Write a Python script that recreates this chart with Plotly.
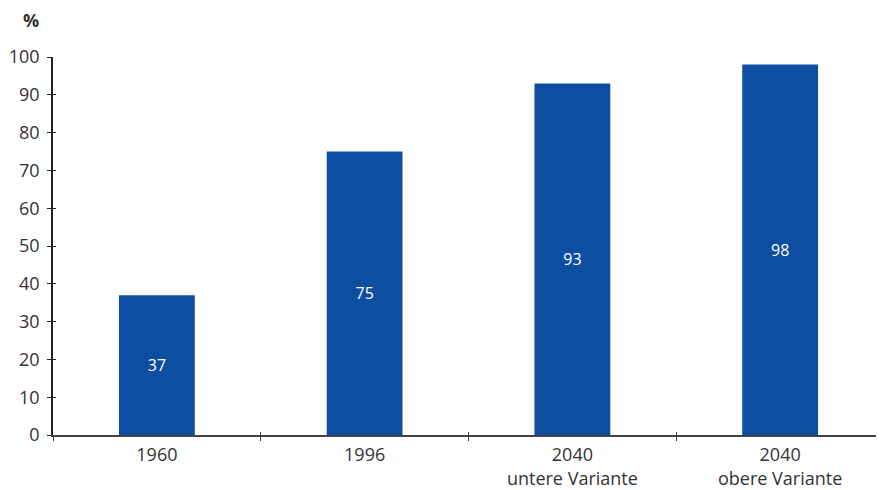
import plotly.graph_objects as go

categories = ["1960", "1996", "2040<br>untere Variante", "2040<br>obere Variante"]
values = [37, 75, 93, 98]
labels = ["37", "75", "93", "98"]
y_ticks = list(range(0, 101, 10))

BLUE = "#0e4ea0"
TXT = "#333333"
FONT = "Open Sans"

fig = go.Figure()
fig.add_trace(go.Bar(
    x=categories, y=values, text=labels,
    marker=dict(color=BLUE, line=dict(width=0)),
    width=0.365,
    textposition="inside", insidetextanchor="middle",
    textfont=dict(color="white", size=16, family=FONT),
    hoverinfo="skip", showlegend=False,
))
# helper trace for overlay axes (crossing ticks)
fig.add_trace(go.Scatter(
    x=categories, y=[None] * len(categories), xaxis="x2", yaxis="y2",
    mode="markers", showlegend=False, hoverinfo="skip",
))

# page body has an 8px margin: size the figure so it fills the window
fig.update_layout(
    width=876, height=482,
    margin=dict(l=45, r=0, t=49, b=55),
    paper_bgcolor="white", plot_bgcolor="white",
    font=dict(family=FONT, size=18, color=TXT),
    xaxis=dict(
        type="category", categoryorder="array", categoryarray=categories,
        range=[-0.5, 3.5], tickson="boundaries", automargin=False,
        ticks="outside", ticklen=4, tickcolor="#444", tickwidth=1,
        showline=True, linecolor="#444", linewidth=1.5,
        showgrid=False, zeroline=False,
        tickfont=dict(size=18, color=TXT, family=FONT),
        ticklabelstandoff=3,
    ),
    yaxis=dict(
        range=[0, 100], tickmode="array", tickvals=y_ticks, automargin=False,
        ticks="outside", ticklen=4, tickcolor="#222", tickwidth=1,
        showline=True, linecolor="#222", linewidth=1.5,
        showgrid=False, zeroline=False,
        tickfont=dict(size=18, color=TXT, family=FONT),
        ticklabelstandoff=4,
    ),
    xaxis2=dict(
        type="category", categoryorder="array", categoryarray=categories,
        range=[-0.5, 3.5], tickson="boundaries", overlaying="x", anchor="y2",
        ticks="inside", ticklen=3, tickcolor="#444", tickwidth=1,
        showticklabels=False, showline=False, showgrid=False, zeroline=False,
        automargin=False,
    ),
    yaxis2=dict(
        range=[0, 100], tickmode="array", tickvals=y_ticks, overlaying="y",
        anchor="x2", side="left", automargin=False,
        ticks="inside", ticklen=3, tickcolor="#222", tickwidth=1,
        showticklabels=False, showline=False, showgrid=False, zeroline=False,
    ),
    annotations=[dict(
        text="<b>%</b>", xref="paper", yref="paper", x=0, y=1,
        xshift=-22, yshift=37, xanchor="center", yanchor="middle",
        showarrow=False, font=dict(size=18, color=TXT, family=FONT),
    )],
)

fig.write_html("out.html")
